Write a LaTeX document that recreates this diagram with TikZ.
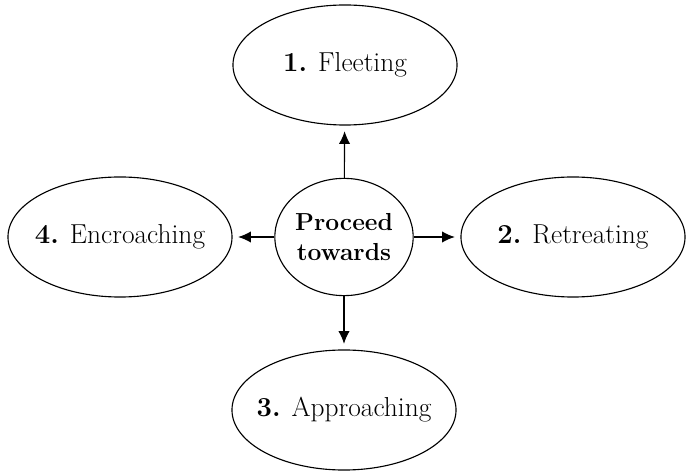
\documentclass[tikz,border=0pt]{standalone}
\usepackage{tikz}
\usetikzlibrary{shapes.geometric,arrows.meta}

\begin{document}
\begin{tikzpicture}[x=0.025cm, y=-0.025cm,
	stage/.style={draw, ellipse, line width=0.8pt, inner ysep=0pt, inner xsep=-25pt,
	  minimum width=5.6cm, minimum height=3cm, font=\fontsize{19.5}{22}\selectfont},
	hub/.style={draw, ellipse, line width=0.8pt, inner sep=0pt, align=center,
	  minimum width=3.45cm, minimum height=2.93cm, font=\fontsize{17.5}{21}\selectfont\bfseries},
	link/.style={-{Latex[length=9pt,width=8pt]}, line width=0.8pt, shorten >=4pt}]
	\useasboundingbox (0,0) rectangle (686,472);

	\node[hub] (proceed) at (344,237) {Proceed\\towards};

	\node[stage] (fleeting) at (345,65) {\textbf{1.} Fleeting};
	\node[stage] (retreating) at (573,237) {\textbf{2.} Retreating};
	\node[stage] (approaching) at (344,410) {\textbf{3.} Approaching};
	\node[stage] (encroaching) at (120,237) {\textbf{4.} Encroaching};

	\draw[link] (proceed) -- (fleeting);
	\draw[link] (proceed) -- (retreating);
	\draw[link] (proceed) -- (approaching);
	\draw[link] (proceed) -- (encroaching);
\end{tikzpicture}
\end{document}
